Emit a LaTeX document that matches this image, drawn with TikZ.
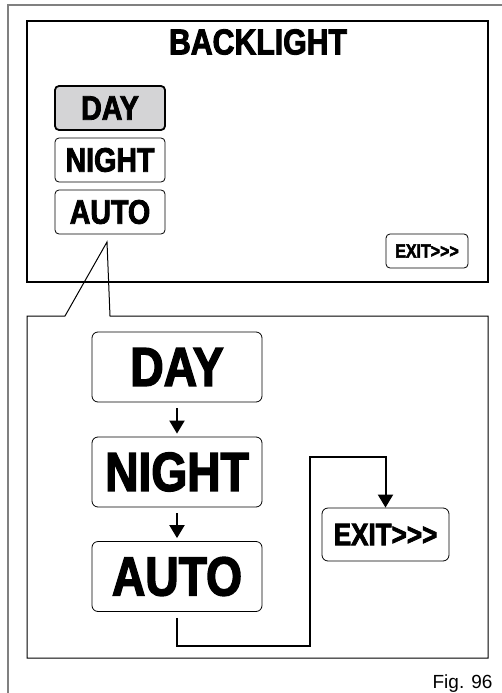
\documentclass[tikz,border=0pt]{standalone}
\usepackage{fontspec}
\usepackage{tikz}
\usepackage{xcolor}
\usetikzlibrary{arrows.meta}
\setmainfont{Liberation Sans}
\newfontfamily\lcdfont[FakeStretch=0.84,BoldFeatures={FakeBold=2.5}]{Liberation Sans}
\definecolor{selgray}{HTML}{D4D4D6}
\tikzset{
  smallkey/.style={draw,rounded corners=4pt,line width=0.8pt,minimum width=110pt,minimum height=44pt,inner sep=0pt,font=\lcdfont\bfseries\fontsize{34}{34}\selectfont},
  bigkey/.style={draw,rounded corners=6pt,line width=0.8pt,minimum width=170pt,minimum height=70pt,inner sep=0pt,font=\lcdfont\bfseries\fontsize{55}{55}\selectfont},
  flow/.style={line width=2pt,-{Triangle[length=13pt,width=15pt]}}
}

\begin{document}
\begin{tikzpicture}[x=1pt,y=-1pt]
\useasboundingbox (0,0) rectangle (502,693);
\draw[gray,line width=1.5pt] (8,693)--(8,5)--(502,5);
\draw[line width=2pt] (27,21) rectangle (488,282);
\node[font=\lcdfont\bfseries\fontsize{36}{36}\selectfont] (title) at (258,42) {BACKLIGHT};
\node[smallkey,fill=selgray,line width=1.8pt] (day1) at (110,108) {DAY};
\node[smallkey] (night1) at (110,160) {NIGHT};
\node[smallkey] (auto1) at (110,212) {AUTO};
\node[smallkey,minimum width=82pt,minimum height=34pt,font=\lcdfont\bfseries\fontsize{19}{19}\selectfont] (exit1) at (427,251) {EXIT>>>};
\coordinate (tip) at (107,242);
\draw[line width=1pt] (65,316)--(tip)--(110,316)--(488,316)--(488,658)--(27,658)--(27,316)--(65,316);
\node[bigkey] (day2) at (177,367) {DAY};
\node[bigkey] (night2) at (177,472) {NIGHT};
\node[bigkey] (auto2) at (177,576.5) {AUTO};
\node[bigkey,minimum width=127pt,minimum height=53pt,font=\lcdfont\bfseries\fontsize{31}{31}\selectfont] (exit2) at (385.5,534.5) {EXIT>>>};
\draw[flow,shorten <=6pt,shorten >=3pt] (day2)--(night2);
\draw[flow,shorten <=6pt,shorten >=3pt] (night2)--(auto2);
\draw[flow] ([yshift=-6pt]auto2.south)--++(0,28)-|(310,457)-|(exit2.north);
\node[anchor=base east,font=\fontsize{19}{19}\selectfont] (fig) at (496,688) {Fig. 96};
\end{tikzpicture}
\end{document}
